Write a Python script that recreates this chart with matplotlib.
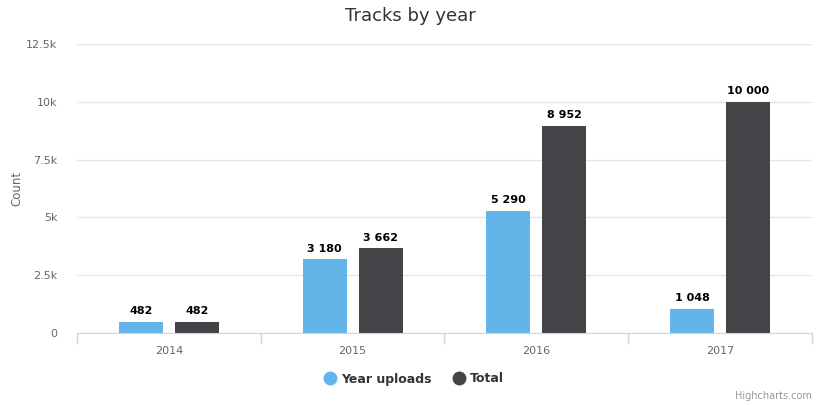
import numpy as np
import matplotlib.pyplot as plt
from matplotlib.lines import Line2D

years = ['2014', '2015', '2016', '2017']
year_uploads = [482, 3180, 5290, 1048]
total = [482, 3662, 8952, 10000]
y_ticks = [0, 2500, 5000, 7500, 10000, 12500]
y_tick_labels = ['0', '2.5k', '5k', '7.5k', '10k', '12.5k']

BLUE = '#63b5e9'
DARK = '#434348'

fig = plt.figure(figsize=(8.2, 4.05), dpi=100)
ax = fig.add_axes([77/820, 1 - 333/405, 735/820, 289/405])

x = np.arange(len(years))
w = 0.24
off = 0.152
b1 = ax.bar(x - off, year_uploads, w, color=BLUE, zorder=3)
b2 = ax.bar(x + off, total, w, color=DARK, zorder=3)

def fmt(v):
    return f"{v:,}".replace(',', ' ')

for bars, vals in ((b1, year_uploads), (b2, total)):
    for r, v in zip(bars, vals):
        ax.annotate(fmt(v), (r.get_x() + r.get_width() / 2, v), xytext=(0, 4),
                    textcoords='offset points', ha='center', va='bottom',
                    fontsize=8, fontweight='bold', color='black', zorder=4)

ax.set_xlim(-0.5, len(years) - 0.5)
ax.set_ylim(0, 12500)
ax.set_yticks(y_ticks)
ax.set_yticklabels(y_tick_labels)
ax.set_xticks(x)
ax.set_xticklabels(years)
ax.tick_params(axis='x', length=0, pad=9, labelsize=8, labelcolor='#666666')
ax.tick_params(axis='y', length=0, pad=14, labelsize=8, labelcolor='#666666')
ax.grid(axis='y', color='#e6e6e6', linewidth=1, zorder=0)
for s in ('top', 'right', 'left'):
    ax.spines[s].set_visible(False)
ax.spines['bottom'].set_color('#ccd6eb')
ax.spines['bottom'].set_zorder(5)

# category boundary ticks
for b in np.arange(-0.5, len(years)):
    ax.plot([b, b], [0, -0.035], transform=ax.get_xaxis_transform(),
            color='#ccd6eb', linewidth=1, clip_on=False)

fig.text(17/820, 1 - 188/405, 'Count', rotation=90, ha='center', va='center',
         fontsize=8.5, color='#666666')

fig.text(0.5, 1 - 16/405, 'Tracks by year', ha='center', va='center',
         fontsize=13, color='#333333')

handles = [Line2D([], [], marker='o', linestyle='', markersize=9, color=BLUE),
           Line2D([], [], marker='o', linestyle='', markersize=9, color=DARK)]
fig.legend(handles, ['Year uploads', 'Total'], loc='center',
           bbox_to_anchor=(414/820, 1 - 379/405), ncol=2, frameon=False,
           prop={'size': 9, 'weight': 'bold'}, labelcolor='#333333',
           handletextpad=0.4, columnspacing=1.7, handlelength=1.0)

fig.text(812/820, 1 - 396/405, 'Highcharts.com', ha='right', va='center',
         fontsize=7, color='#999999')

fig.savefig('out.png', dpi=100)
